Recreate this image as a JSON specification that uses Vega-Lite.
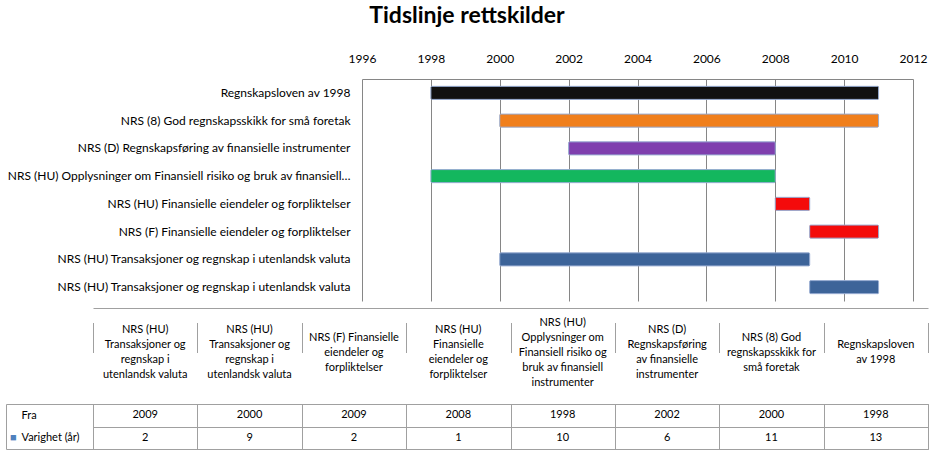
{
  "$schema": "https://vega.github.io/schema/vega-lite/v6.json",
  "title": {"text": "Tidslinje rettskilder", "fontSize": 23, "font": "Lato", "fontWeight": "bold", "anchor": "middle", "offset": 24, "color": "#000000"},
  "data": {"values": [
    {"nr": 1, "navn": "Regnskapsloven av 1998", "overskrift": "Regnskapsloven\nav 1998", "Fra": 1998, "Til": 2011, "Varighet": 13},
    {"nr": 2, "navn": "NRS (8) God regnskapsskikk for små foretak", "overskrift": "NRS (8) God\nregnskapsskikk for\nsmå foretak", "Fra": 2000, "Til": 2011, "Varighet": 11},
    {"nr": 3, "navn": "NRS (D) Regnskapsføring av finansielle instrumenter", "overskrift": "NRS (D)\nRegnskapsføring\nav finansielle\ninstrumenter", "Fra": 2002, "Til": 2008, "Varighet": 6},
    {"nr": 4, "navn": "NRS (HU) Opplysninger om Finansiell risiko og bruk av finansiell instrumenter", "overskrift": "NRS (HU)\nOpplysninger om\nFinansiell risiko og\nbruk av finansiell\ninstrumenter", "Fra": 1998, "Til": 2008, "Varighet": 10},
    {"nr": 5, "navn": "NRS (HU) Finansielle eiendeler og forpliktelser", "overskrift": "NRS (HU)\nFinansielle\neiendeler og\nforpliktelser", "Fra": 2008, "Til": 2009, "Varighet": 1},
    {"nr": 6, "navn": "NRS (F) Finansielle eiendeler og forpliktelser", "overskrift": "NRS (F) Finansielle\neiendeler og\nforpliktelser", "Fra": 2009, "Til": 2011, "Varighet": 2},
    {"nr": 7, "navn": "NRS (HU) Transaksjoner og regnskap i utenlandsk valuta", "overskrift": "NRS (HU)\nTransaksjoner og\nregnskap i\nutenlandsk valuta", "Fra": 2000, "Til": 2009, "Varighet": 9},
    {"nr": 8, "navn": "NRS (HU) Transaksjoner og regnskap i utenlandsk valuta\u200b", "overskrift": "NRS (HU)\nTransaksjoner og\nregnskap i\nutenlandsk valuta", "Fra": 2009, "Til": 2011, "Varighet": 2}
  ]},
  "spacing": 0,
  "vconcat": [
    {
      "width": 922,
      "height": 229,
      "mark": {"type": "bar", "stroke": "#97acd2", "strokeWidth": 1, "cornerRadius": 1},
      "encoding": {
        "y": {"field": "navn", "type": "nominal", "sort": {"field": "nr", "op": "min", "order": "ascending"},
          "scale": {"range": [0, 222], "paddingInner": 0.53, "paddingOuter": 0.265},
          "axis": {"title": null, "domain": false, "ticks": false, "tickSize": 0, "offset": -356, "labelPadding": 12, "labelLimit": 345, "labelFontSize": 12, "labelColor": "#000000"}},
        "x": {"field": "Fra", "type": "quantitative", "scale": {"domain": [1996, 2012], "range": [356, 907], "nice": false, "zero": false},
          "axis": {"orient": "top", "title": null, "values": [1996, 1998, 2000, 2002, 2004, 2006, 2008, 2010, 2012], "format": "d", "grid": true, "gridColor": "#868686", "gridOpacity": 1, "domainColor": "#868686", "ticks": false, "tickSize": 0, "labelPadding": 14, "labelFontSize": 12, "labelColor": "#000000", "labelFlush": false}},
        "x2": {"field": "Til"},
        "color": {"field": "nr", "type": "ordinal", "scale": {"domain": [1, 2, 3, 4, 5, 6, 7, 8], "range": ["#111111", "#f07f1c", "#7f3fae", "#13b75e", "#f40b0b", "#f40b0b", "#3d6499", "#3d6499"]}, "legend": null}
      }
    },
    {
      "width": 922,
      "height": 89,
      "transform": [{"calculate": "length(split(datum.overskrift, '\\n'))", "as": "linjer"}],
      "mark": {"type": "text", "fontSize": 11, "lineHeight": 15, "lineBreak": "\n", "baseline": "middle", "color": "#000000"},
      "encoding": {
        "x": {"field": "navn", "type": "nominal", "sort": {"field": "nr", "op": "min", "order": "descending"},
          "scale": {"range": [87, 922], "paddingInner": 0, "paddingOuter": 0},
          "axis": {"orient": "top", "title": null, "labels": false, "ticks": false, "tickSize": 0, "domain": true, "domainColor": "#a0a0a0", "grid": true, "tickBand": "extent", "gridColor": "#a0a0a0", "gridOpacity": 1}},
        "y": {"field": "linjer", "type": "quantitative", "scale": {"domain": [1, 5], "range": [44.5, 14.5], "zero": false, "nice": false}, "axis": null},
        "text": {"field": "overskrift"}
      }
    },
    {
      "width": 922,
      "height": 45,
      "view": {"stroke": "#a0a0a0"},
      "transform": [{"fold": ["Fra", "Varighet"], "as": ["rad", "verdi"]}],
      "encoding": {
        "x": {"field": "navn", "type": "nominal", "sort": {"field": "nr", "op": "min", "order": "descending"},
          "scale": {"range": [87, 922], "paddingInner": 0, "paddingOuter": 0},
          "axis": {"title": null, "labels": false, "ticks": false, "tickSize": 0, "domain": false, "grid": true, "tickBand": "extent", "gridColor": "#a0a0a0", "gridOpacity": 1}},
        "y": {"field": "rad", "type": "nominal", "sort": ["Fra", "Varighet"],
          "scale": {"paddingInner": 0, "paddingOuter": 0},
          "axis": {"title": null, "labelAlign": "left", "labelPadding": -15, "labelExpr": "datum.value == 'Varighet' ? 'Varighet (år)' : datum.value", "ticks": false, "tickSize": 0, "domain": false, "grid": true, "tickBand": "extent", "gridColor": "#a0a0a0", "gridOpacity": 1, "labelFontSize": 11, "labelColor": "#000000"}}
      },
      "layer": [
        {"mark": {"type": "text", "fontSize": 11, "color": "#000000"}, "encoding": {"text": {"field": "verdi"}}},
        {
          "transform": [{"filter": "datum.nr == 8 && datum.rad == 'Varighet'"}],
          "mark": {"type": "text", "text": "■", "color": "#4f81bd", "align": "left", "dx": -83, "fontSize": 11},
          "encoding": {"x": {"field": "navn", "type": "nominal", "sort": {"field": "nr", "op": "min", "order": "descending"}, "bandPosition": 0}}
        }
      ]
    }
  ],
  "config": {
    "font": "Lato",
    "view": {"stroke": null},
    "axis": {"labelFont": "Lato"}
  }
}
